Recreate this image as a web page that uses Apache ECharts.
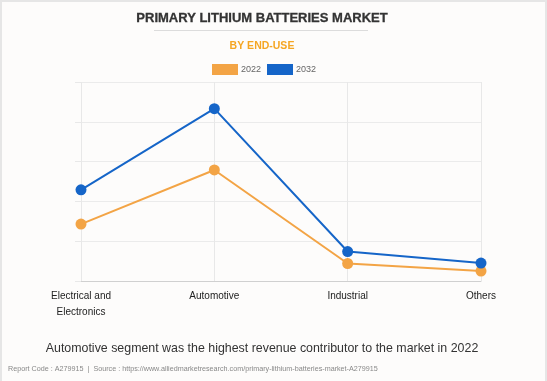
<!DOCTYPE html>
<html><head><meta charset="utf-8">
<script src="https://cdn.jsdelivr.net/npm/echarts@6/dist/echarts.min.js"></script>
<style>html,body{margin:0;padding:0;background:#fdfcfb;}#c{width:547px;height:381px;box-sizing:border-box;border:2px solid #e6e6e6;border-bottom:none;}</style>
</head><body><div id="c"></div>
<script>
const categories = ['Electrical and\nElectronics', 'Automotive', 'Industrial', 'Others'];
const values2022 = [1.43, 2.79, 0.44, 0.25];
const values2032 = [2.29, 4.33, 0.74, 0.45];
const seriesNames = ['2022', '2032'];

const FF = 'Liberation Sans, Arial';
const chart = echarts.init(document.getElementById('c'), null, {renderer: 'canvas'});
chart.setOption({
  backgroundColor: '#fdfcfb',
  animation: false,
  graphic: [
    {type: 'text', x: 260, y: 16, style: {text: 'PRIMARY LITHIUM BATTERIES MARKET', font: 'bold 13px ' + FF, fill: '#333', stroke: '#333', lineWidth: 0.3, textAlign: 'center', textVerticalAlign: 'middle'}},
    {type: 'line', shape: {x1: 152, y1: 28.5, x2: 366, y2: 28.5}, style: {stroke: '#dcdcdc', lineWidth: 1}},
    {type: 'text', x: 260, y: 44, style: {text: 'BY END-USE', font: 'bold 10.5px ' + FF, fill: '#F5A623', textAlign: 'center', textVerticalAlign: 'middle'}},
    {type: 'text', x: 260, y: 347, style: {text: 'Automotive segment was the highest revenue contributor to the market in 2022', font: '12.4px ' + FF, fill: '#333', textAlign: 'center', textVerticalAlign: 'middle'}},
    {type: 'text', x: 6, y: 367, style: {text: 'Report Code : A279915  |  Source : https://www.alliedmarketresearch.com/primary-lithium-batteries-market-A279915', font: '7.2px ' + FF, fill: '#888', textAlign: 'left', textVerticalAlign: 'middle'}}
  ],
  legend: {
    data: seriesNames, top: 57, left: 205, itemWidth: 26, itemHeight: 11, itemGap: 6,
    icon: 'rect',
    textStyle: {fontFamily: FF, fontSize: 9, color: '#666', padding: [0, 0, 0, -2]}
  },
  grid: {left: 79, right: 64, top: 80, bottom: 100},
  xAxis: {
    type: 'category', data: categories, boundaryGap: false,
    axisLine: {lineStyle: {color: '#d0d0d0'}},
    axisTick: {show: false},
    splitLine: {show: true, lineStyle: {color: '#e8e8e8'}},
    axisLabel: {fontFamily: FF, fontSize: 10, color: '#222', margin: 7, lineHeight: 16, interval: 0}
  },
  yAxis: {
    type: 'value', min: 0, max: 5, interval: 1,
    axisLine: {show: false},
    axisTick: {show: true, length: 6, lineStyle: {color: '#e8e8e8'}},
    axisLabel: {show: false},
    splitLine: {lineStyle: {color: '#ebebeb'}}
  },
  series: [
    {name: seriesNames[0], type: 'line', data: values2022, symbol: 'circle', symbolSize: 11,
     itemStyle: {color: '#F3A445'}, lineStyle: {width: 2, color: '#F3A445'}},
    {name: seriesNames[1], type: 'line', data: values2032, symbol: 'circle', symbolSize: 11,
     itemStyle: {color: '#1565C8'}, lineStyle: {width: 2, color: '#1565C8'}}
  ]
});
</script></body></html>
